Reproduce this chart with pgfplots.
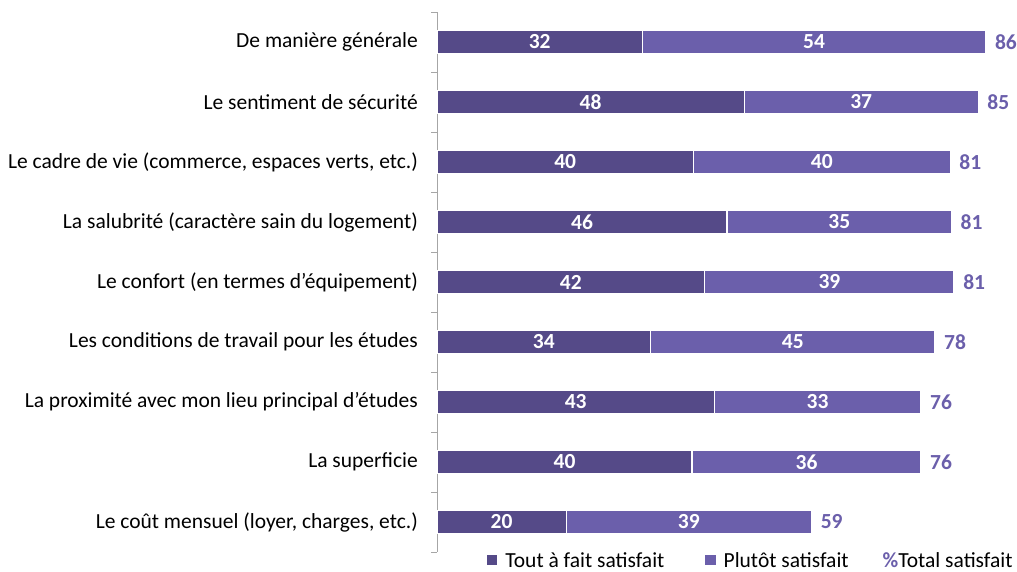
\documentclass[border=0pt]{standalone}
\usepackage{fontspec}
\setmainfont{Carlito}
\usepackage{pgfplots}
\usepackage{pgfplotstable}
\pgfplotsset{compat=1.18}
\definecolor{cA}{HTML}{554A88}
\definecolor{cB}{HTML}{6B5FAB}
\definecolor{cT}{HTML}{6B5FAB}
\definecolor{axg}{HTML}{A6A6A6}

% a, b: bar lengths as measured; la, lb, t: printed labels
\pgfplotstableread{
y a b la lb t
0 32.3 54.0 32 54 86
1 48.3 36.8 48 37 85
2 40.3 40.4 40 40 81
3 45.6 35.3 46 35 81
4 42.1 39.2 42 39 81
5 33.6 44.7 34 45 78
6 43.6 32.5 43 33 76
7 40.1 36.0 40 36 76
8 20.3 38.6 20 39 59
}\data

\newcommand{\fs}{\fontsize{21.5}{25}\selectfont}

\begin{document}
\begin{tikzpicture}
\useasboundingbox (0,0) rectangle (1017pt,571pt);
\begin{axis}[
  at={(437pt,19pt)}, anchor=south west,
  scale only axis, width=572.4pt, height=540pt,
  xmin=0, xmax=90, ymin=-0.5, ymax=8.5, y dir=reverse,
  xbar stacked, bar width=23pt,
  /pgf/number format/assume math mode=true,
  axis x line=none, axis y line*=left,
  y axis line style={draw=axg, line width=0.8pt},
  ytick={0,...,8},
  yticklabels={De manière générale, Le sentiment de sécurité, {Le cadre de vie (commerce, espaces verts, etc.)}, La salubrité (caractère sain du logement), Le confort (en termes d'équipement), Les conditions de travail pour les études, La proximité avec mon lieu principal d'études, La superficie, {Le coût mensuel (loyer, charges, etc.)}},
  major tick length=0pt,
  minor ytick={-0.5,0.5,...,8.5},
  minor tick length=6pt, tick align=outside,
  minor tick style={draw=axg, line width=0.8pt},
  yticklabel style={font=\fs, anchor=east, inner sep=0pt, xshift=-19pt},
  clip=false,
  legend style={at={(axis description cs:0.082,-0.0155)}, anchor=west, draw=none, fill=none, font=\fs, legend columns=3,
    /tikz/column 2/.style={column sep=39pt},
    /tikz/column 4/.style={column sep=30pt}},
]
\addplot[fill=cA, draw=white, line width=1.2pt,
  point meta=\thisrow{la},
  nodes near coords,
  nodes near coords style={anchor=center, text=white, font=\bfseries\fs},
  legend image code/.code={\fill[cA] (0pt,-4.5pt) rectangle (9pt,4.5pt); \path (15pt,0pt);}]
  table[x=a, y=y]{\data};
\addlegendentry{Tout à fait satisfait}
\addplot[fill=cB, draw=white, line width=1.2pt,
  point meta=\thisrow{lb},
  nodes near coords,
  nodes near coords style={anchor=center, text=white, font=\bfseries\fs},
  legend image code/.code={\fill[cB] (0pt,-4.5pt) rectangle (9pt,4.5pt); \path (15pt,0pt);}]
  table[x=b, y=y]{\data};
\addlegendentry{Plutôt satisfait}
\addlegendimage{empty legend}
\addlegendentry{\textcolor{cT}{\bfseries\%}Total satisfait}
\end{axis}
\begin{axis}[
  at={(437pt,19pt)}, anchor=south west,
  scale only axis, width=572.4pt, height=540pt,
  xmin=0, xmax=90, ymin=-0.5, ymax=8.5, y dir=reverse,
  hide axis, clip=false,
  /pgf/number format/assume math mode=true,
]
\addplot[draw=none, mark=none,
  point meta=\thisrow{t},
  nodes near coords,
  nodes near coords style={anchor=west, text=cT, font=\bfseries\fs, inner sep=0pt, xshift=9pt}]
  table[x expr=\thisrow{a}+\thisrow{b}, y=y]{\data};
\end{axis}
\end{tikzpicture}
\end{document}
